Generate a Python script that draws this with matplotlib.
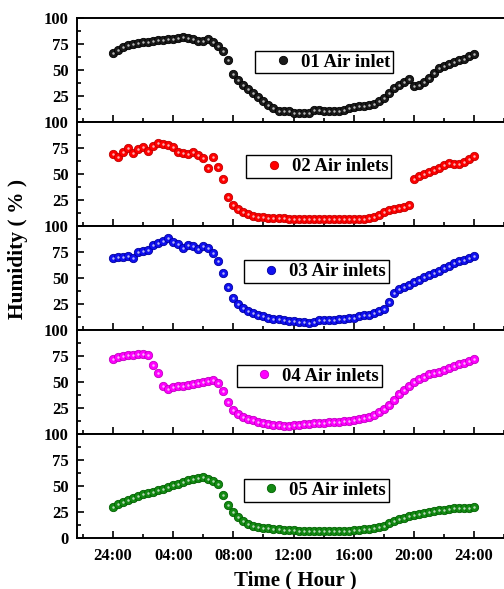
import numpy as np
import matplotlib
matplotlib.use('Agg')
import matplotlib.pyplot as plt
from matplotlib.ticker import MultipleLocator, FixedLocator

plt.rcParams['font.family'] = ['Liberation Serif', 'DejaVu Serif']
plt.rcParams['font.weight'] = 'bold'

# time axis: one reading every 20 minutes, hours after midnight
hours = np.arange(0, 24 * 60 + 1, 20) / 60.0

inlet_01 = [66, 69, 72, 74, 75, 76, 77, 77, 78, 79, 79, 80,
            80, 81, 82, 81, 80, 78, 78, 79.5, 77, 73, 68, 60,
            46, 40, 36, 32, 28, 24, 20, 16, 13, 11, 11, 11,
            9, 8.5, 8.5, 9, 12, 12, 11, 10.5, 10.5, 11, 12, 13,
            14, 15, 15.5, 16, 17, 20, 23, 28, 33, 36, 38, 41,
            35, 36, 38, 42, 47, 52, 54, 56, 58, 60, 61, 63,
            65]
inlet_02 = [69, 66, 71, 75, 70, 74, 76, 72, 77, 80, 79, 78,
            76, 71, 70, 69, 71, 68, 65, 56, 66, 57, 45, 28,
            20, 16, 13, 11.5, 10, 9, 8.5, 8, 7.8, 7.5, 7.3, 7.1,
            7, 6.9, 6.8, 6.7, 6.7, 6.7, 6.7, 6.7, 6.7, 6.7, 6.7, 6.7,
            6.8, 7, 7.2, 7.5, 9, 11, 13, 15, 16, 17, 18.5, 20,
            45, 48, 50, 52, 54, 56, 59, 61, 60, 60, 62, 64,
            67]
inlet_03 = [69, 70, 70.5, 71, 69, 75, 76, 77, 82, 84, 86, 88,
            85, 83, 79, 82, 81, 78, 81, 79, 74, 66, 55, 41,
            31, 25, 21, 18, 16, 14, 13, 12, 11, 10.5, 10, 9,
            8.5, 8, 7.5, 7, 8, 9.5, 9.5, 10, 10, 10.5, 11, 11.5,
            12, 13, 14, 14.5, 16, 18, 20, 27, 36, 39, 41, 43,
            46, 48.5, 51, 53, 55, 57, 60, 62, 64, 66, 67, 69,
            71]
inlet_04 = [72, 74, 75, 75.5, 76, 76.5, 77, 76, 66, 59, 46, 43,
            45, 46, 46, 47, 48, 49, 50, 51, 52, 49, 41, 31,
            23, 19, 16.5, 14.5, 13, 11.5, 10.5, 9.5, 9, 8.5, 8, 8,
            8.3, 9, 9.5, 10, 10.5, 11, 11, 11.3, 11.5, 12, 12.3, 12.7,
            13, 14, 15, 16.5, 18, 21, 24, 28, 33, 38, 42, 46,
            50, 53, 55, 58, 59, 60, 62, 63, 65, 67, 68, 70,
            72]
inlet_05 = [30, 32.5, 35, 36.5, 38, 40, 42, 43, 44.5, 46, 47.5, 49,
            50.5, 52, 54, 55.5, 57, 58, 58.5, 57, 55, 52, 41, 32,
            25, 20, 16, 13, 11.5, 10.5, 10, 9.5, 9, 8.5, 8, 7.5,
            7.3, 7, 6.8, 6.7, 6.7, 6.7, 6.7, 6.7, 6.7, 6.8, 7, 7.2,
            7.4, 7.8, 8.3, 9, 9.6, 10.5, 12, 14, 16, 18, 19.5, 21,
            22, 23, 24, 25, 25.6, 26.5, 27, 28, 28.5, 28.7, 29, 29.2,
            29.5]

series = [inlet_01, inlet_02, inlet_03, inlet_04, inlet_05]
labels = ['01 Air inlet', '02 Air inlets', '03 Air inlets', '04 Air inlets', '05 Air inlets']
colors = ['#1a1a1a', '#ff0000', '#1010f0', '#ff00ff', '#138a13']
edges = ['#000000', '#c00000', '#0000a0', '#c000c0', '#006000']
legend_pos = [(0.558, 0.577), (0.546, 0.572), (0.540, 0.5625), (0.525, 0.558), (0.540, 0.457)]

xtick_pos = [0, 4, 8, 12, 16, 20, 24]
xtick_lab = ['24:00', '04:00', '08:00', '12:00', '16:00', '20:00', '24:00']

fig = plt.figure(figsize=(5.04, 5.89), dpi=100)
W, H = 504.0, 589.0
left_px, right_px = 77, 520
top_px, panel_px = 18, 104

for i, (vals, lab, c, ec) in enumerate(zip(series, labels, colors, edges)):
    y0 = top_px + panel_px * (i + 1)
    ax = fig.add_axes([left_px / W, 1 - y0 / H, (right_px - left_px) / W, panel_px / H])
    h, = ax.plot(hours, vals, 'o', ms=6, mfc=c, mec=ec, mew=0.6, label=lab)
    # small highlight to mimic the shaded balls
    ax.plot(hours, vals, 'o', ms=1.8, mfc='white', mec='none', alpha=0.7)

    ax.set_xlim(-2.4, 27.06)
    ax.set_ylim(0, 100)
    ax.xaxis.set_major_locator(FixedLocator(xtick_pos))
    ax.xaxis.set_minor_locator(MultipleLocator(2))
    ax.yaxis.set_major_locator(MultipleLocator(25))
    ax.yaxis.set_minor_locator(MultipleLocator(12.5))
    ax.tick_params(which='both', direction='in', width=1.2)
    ax.tick_params(which='major', length=5, labelsize=12)
    ax.tick_params(which='minor', length=3)
    ax.tick_params(axis='y', pad=6)
    ax.tick_params(axis='x', pad=7)
    for sp in ax.spines.values():
        sp.set_linewidth(1.4)

    if i < 4:
        ax.set_xticklabels([])
        ax.set_yticks([0, 25, 50, 75, 100])
        ax.set_yticklabels(['', '25', '50', '75', '100'])
    else:
        ax.set_xticklabels(xtick_lab)

    leg = ax.legend(handles=[h], loc='center', bbox_to_anchor=legend_pos[i],
                    fancybox=False, framealpha=1, edgecolor='black',
                    prop={'size': 13.5, 'weight': 'bold'}, borderpad=0.15,
                    handlelength=2.6, handletextpad=-0.33, borderaxespad=0)
    leg.get_frame().set_linewidth(1.0)

fig.text(18 / W, 1 - 249 / H, 'Humidity ( % )', rotation=90, ha='center', va='center',
         fontsize=15.5, fontweight='bold')
fig.text(295 / W, 1 - 580 / H, 'Time ( Hour )', ha='center', va='center',
         fontsize=15, fontweight='bold')

fig.savefig('out.png', dpi=100, facecolor='white')
